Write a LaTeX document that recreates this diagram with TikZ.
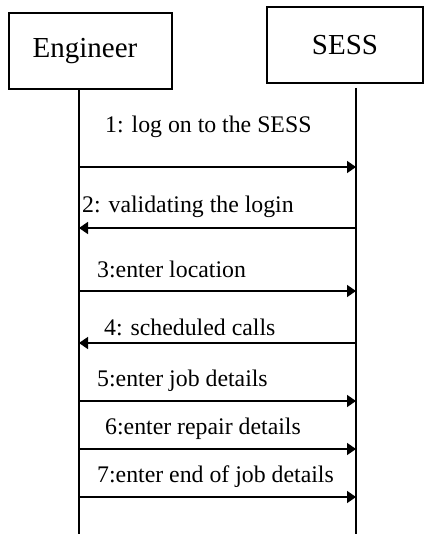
\documentclass[tikz,border=0pt]{standalone}
\usepackage{fontspec}
\setmainfont{Liberation Serif}
\usetikzlibrary{arrows.meta}

\tikzset{
  actorbox/.style={draw, line width=1.8pt, minimum height=76pt, inner sep=0pt,
                   font=\fontsize{29}{34}\selectfont},
  lifeline/.style={line width=1.5pt},
  msg/.style={line width=1.5pt, -{Triangle[length=9pt,width=12pt]}},
  msglabel/.style={anchor=base west, inner sep=0pt, font=\fontsize{23.8}{28}\selectfont}
}

\begin{document}
\begin{tikzpicture}[x=1pt, y=-1pt]
  \useasboundingbox (0,0) rectangle (424,534);

  % actors
  \node[actorbox, minimum width=163pt] (eng) at (90.5,51) {\hspace*{-11pt}Engineer};
  \node[actorbox, minimum width=156pt] (sess) at (345,45) {SESS};

  % lifelines
  \coordinate (etop) at (79,89);
  \coordinate (ebot) at (79,534);
  \coordinate (stop) at (356,88);
  \coordinate (sbot) at (356,534);
  \draw[lifeline] (etop) -- (ebot);
  \draw[lifeline] (stop) -- (sbot);

  % message end points on the two lifelines
  \foreach \n/\y in {1/167, 2/228, 3/291, 4/343, 5/401, 6/449, 7/497} {
    \coordinate (e\n) at (79,\y);
    \coordinate (s\n) at (356,\y);
  }

  % messages
  \draw[msg] (e1) -- (s1);
  \draw[msg] (s2) -- (e2);
  \draw[msg] (e3) -- (s3);
  \draw[msg] (s4) -- (e4);
  \draw[msg] (e5) -- (s5);
  \draw[msg] (e6) -- (s6);
  \draw[msg] (e7) -- (s7);

  % message labels
  \node[msglabel] (l1) at (105,133) {1: log on to the SESS};
  \node[msglabel] (l2) at (82,213) {2: validating the login};
  \node[msglabel] (l3) at (97,277) {3:enter location};
  \node[msglabel] (l4) at (104,335) {4: scheduled calls};
  \node[msglabel] (l5) at (97,386) {5:enter job details};
  \node[msglabel] (l6) at (105,434) {6:enter repair details};
  \node[msglabel] (l7) at (97,482) {7:enter end of job details};
\end{tikzpicture}
\end{document}
